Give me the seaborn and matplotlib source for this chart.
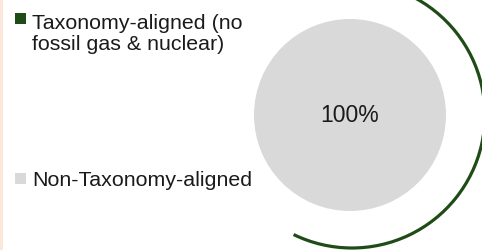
import seaborn as sns
import matplotlib.pyplot as plt
from matplotlib.patches import Arc, Rectangle

# data
categories = ["Taxonomy-aligned (no\nfossil gas & nuclear)", "Non-Taxonomy-aligned"]
shares = [0, 100]
colors = ["#1e4b16", "#d9d9d9"]

sns.set_theme(style="white")
plt.rcParams['font.family'] = ['Liberation Sans', 'DejaVu Sans']

W, H = 482, 251
fig = plt.figure(figsize=(W / 100, H / 100), dpi=100)
fig.patch.set_facecolor("white")

# thin peach strip on the left edge
fig.add_artist(Rectangle((0, 0), 3 / W, 1, transform=fig.transFigure,
                         facecolor="#fce8da", edgecolor="none"))

# pie area (192 px square)
ax = fig.add_axes([254 / W, (H - 212) / H, 192 / W, 192 / H])
ax.pie(shares, colors=colors, startangle=90, counterclock=False,
       autopct=lambda p: f"{p:.0f}%" if p > 0 else "", pctdistance=0,
       wedgeprops=dict(linewidth=0),
       textprops=dict(fontsize=16.5, color="#1a1a1a"))
ax.set_xlim(-1, 1)
ax.set_ylim(-1, 1)
ax.axis("off")

# green outer arc
ax.add_patch(Arc((0.02, 0), 2 * 133 / 96, 2 * 133 / 96, theta1=-116, theta2=90,
                 color=colors[0], lw=2.3, clip_on=False))

# legend drawn by hand: square + label
# (baseline of the last text line in px, square top in px)
legend_rows = [(50, 14), (186, 174)]
for label, col, (base, sq_top) in zip(categories, colors, legend_rows):
    fig.add_artist(Rectangle((15 / W, 1 - (sq_top + 11) / H), 11 / W, 11 / H,
                             transform=fig.transFigure, facecolor=col, edgecolor="none"))
    fig.text(32 / W, 1 - base / H, label, fontsize=15.4, color="#1a1a1a",
             ha="left", va="baseline", linespacing=1.12)

fig.savefig("out.png", dpi=100)
